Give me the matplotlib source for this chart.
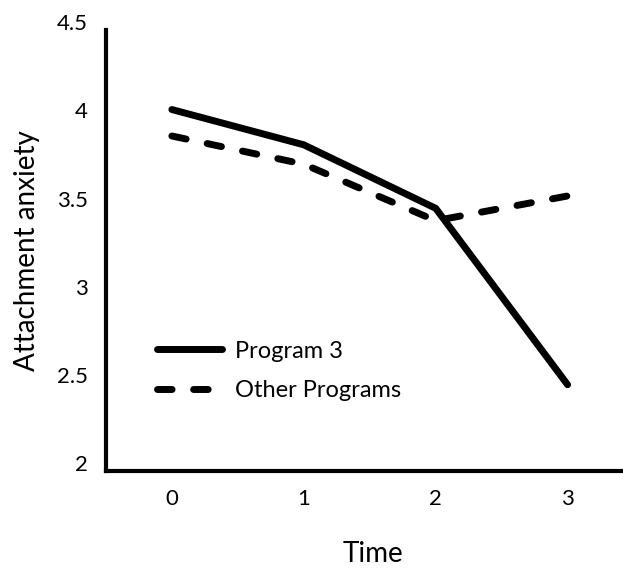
import matplotlib
matplotlib.use("Agg")
import matplotlib.pyplot as plt
import matplotlib.transforms as mtransforms

plt.rcParams['font.family'] = ['Lato', 'DejaVu Sans']

# values
time_points = [0, 1, 2, 3]
program3 = [4.05, 3.85, 3.49, 2.49]
other_programs = [3.90, 3.74, 3.42, 3.56]
y_ticks = [2, 2.5, 3, 3.5, 4, 4.5]
y_tick_labels = ["2", "2.5", "3", "3.5", "4", "4.5"]

fig = plt.figure(figsize=(6.23, 5.69), dpi=100)
ax = fig.add_axes([0.170, 0.172, 0.830, 0.775])

lw = 5
ax.plot(time_points, program3, color="black", lw=lw,
        solid_capstyle="round", solid_joinstyle="miter", label="Program 3")
ax.plot(time_points, other_programs, color="black", lw=lw,
        dashes=(2.1, 3.1), dash_capstyle="round", dash_joinstyle="miter",
        label="Other Programs")

ax.set_xlim(-0.5, 3.42)
ax.set_ylim(2, 4.5)
ax.set_xticks(time_points)
ax.set_xticklabels([str(t) for t in time_points])
ax.set_yticks(y_ticks)
ax.set_yticklabels(y_tick_labels)

for side in ["top", "right"]:
    ax.spines[side].set_visible(False)
for side in ["left", "bottom"]:
    ax.spines[side].set_linewidth(3)

ax.tick_params(axis="both", length=0, labelsize=16)
ax.tick_params(axis="x", pad=13)
ax.tick_params(axis="y", pad=13)

# excel puts the y labels a little above the gridline value
shift = mtransforms.ScaledTranslation(0, 8 / 100, fig.dpi_scale_trans)
for lab in ax.get_yticklabels():
    lab.set_transform(lab.get_transform() + shift)

ax.set_ylabel("Attachment anxiety", fontsize=20)
ax.set_xlabel("Time", fontsize=20)
ax.yaxis.set_label_coords(-0.128, 0.5)
ax.xaxis.set_label_coords(0.516, -0.158)

ax.legend(loc="center left", bbox_to_anchor=(0.252, 0.348),
          bbox_transform=fig.transFigure, frameon=False, fontsize=17,
          handlelength=2.75, handletextpad=0.55, labelspacing=0.8,
          borderpad=0, borderaxespad=0)

fig.savefig("out.png", dpi=100)
